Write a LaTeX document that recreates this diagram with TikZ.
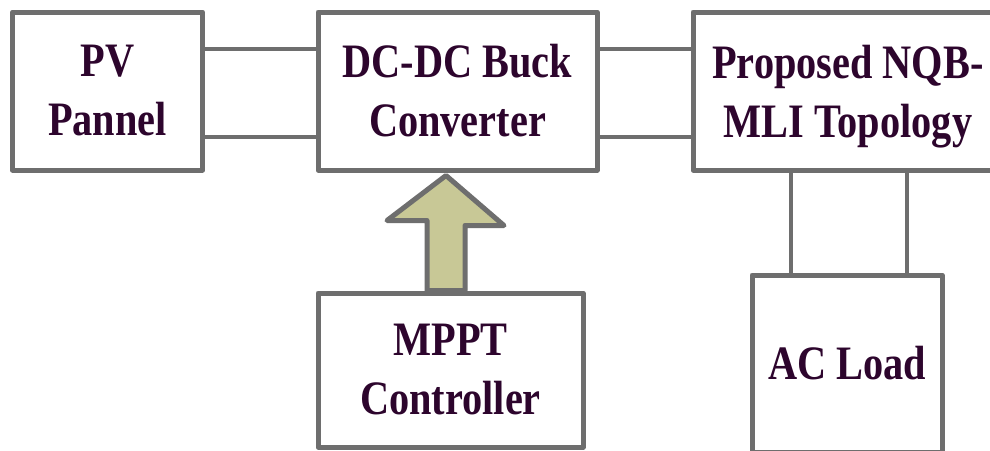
\documentclass[tikz,border=0pt]{standalone}
\usepackage{fontspec}
\setmainfont[FakeStretch=0.84]{Liberation Serif}
\definecolor{linegray}{RGB}{110,110,110}
\definecolor{khaki}{RGB}{200,200,150}
\definecolor{inkpurple}{RGB}{45,5,45}

\begin{document}
\begin{tikzpicture}[x=1pt,y=-1pt,
  blockbox/.style={draw=linegray, line width=5pt, fill=white, inner sep=0pt,
                   line join=round},
  wire/.style={draw=linegray, line width=4.5pt},
  bigarrow/.style={draw=linegray, line width=5pt, fill=khaki, line join=round},
  blocklabel/.style={text=inkpurple, font=\fontsize{48}{59}\selectfont\bfseries,
                     align=center, inner sep=0pt}]
\clip (0,0) rectangle (990,450);
\fill[white] (0,0) rectangle (990,450);

% helper coordinates for the wire rows/columns
\coordinate (ytop) at (0,49);
\coordinate (ybot) at (0,137);
\coordinate (xleft) at (791,0);
\coordinate (xright) at (907,0);
\coordinate (xarrow) at (446,0);

% blocks
\node[blockbox, minimum width=190pt, minimum height=158pt] (pv)   at (107.5,91) {};
\node[blockbox, minimum width=279pt, minimum height=158pt] (dc)   at (457.5,91) {};
\node[blockbox, minimum width=310pt, minimum height=158pt] (nqb)  at (848,91) {};
\node[blockbox, minimum width=265pt, minimum height=154pt] (mppt) at (450.5,370) {};
\node[blockbox, minimum width=190pt, minimum height=177pt] (ac)   at (847,363.5) {};

% two-wire links
\draw[wire] (pv.east |- ytop) -- (dc.west |- ytop);
\draw[wire] (pv.east |- ybot) -- (dc.west |- ybot);
\draw[wire] (dc.east |- ytop) -- (nqb.west |- ytop);
\draw[wire] (dc.east |- ybot) -- (nqb.west |- ybot);
\draw[wire] (nqb.south -| xleft) -- (ac.north -| xleft);
\draw[wire] (nqb.south -| xright) -- (ac.north -| xright);

% control signal arrow from MPPT to the converter
\coordinate (tip) at ([yshift=-3pt]dc.south -| xarrow);
\coordinate (base) at (mppt.north -| xarrow);
\draw[bigarrow] (tip) -- ++(58,50) -- ++(-39,0) -- ([xshift=19pt]base)
  -- ([xshift=-19pt]base) -- ++(0,-70) -- ++(-40,0) -- cycle;

% labels
\node[blocklabel] (pvlabel)   at (pv.center)   {PV\\Pannel};
\node[blocklabel] (dclabel)   at (dc.center)   {DC-DC Buck\\Converter};
\node[blocklabel] (nqblabel)  at ([yshift=-6pt]nqb.center) {Proposed NQB-\\MLI Topology};
\node[blocklabel] (mpptlabel) at (mppt.center) {MPPT\\Controller};
\node[blocklabel] (aclabel)   at (ac.center)   {AC Load};
\end{tikzpicture}
\end{document}
